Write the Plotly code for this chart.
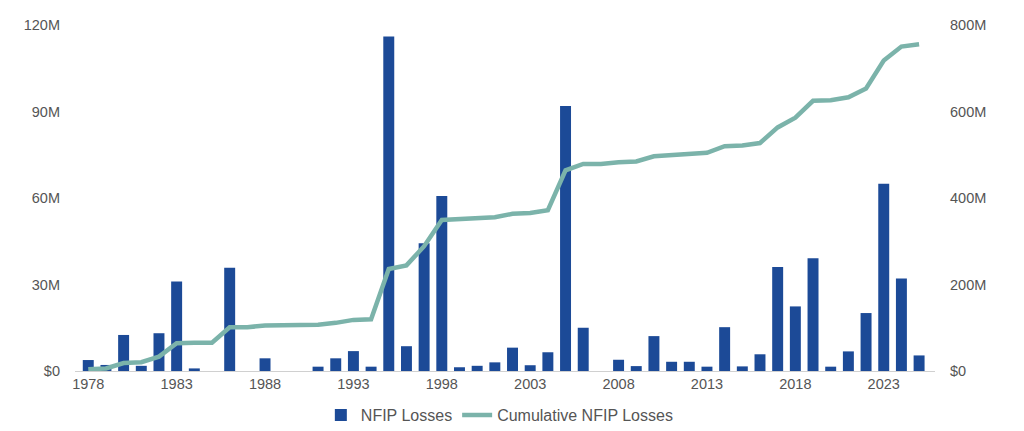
import plotly.graph_objects as go

years = list(range(1978, 2026))
losses_m = [3.8, 2.1, 12.5, 1.8, 13.1, 31.0, 0.9, 0.0, 35.8, 0.0,
            4.4, 0.0, 0.0, 1.5, 4.4, 6.9, 1.5, 116.0, 8.6, 44.3,
            60.7, 1.3, 1.8, 3.0, 8.1, 2.0, 6.5, 91.9, 15.0, 0.0,
            3.9, 1.7, 12.1, 3.2, 3.2, 1.5, 15.2, 1.6, 5.8, 36.1,
            22.4, 39.1, 1.5, 6.8, 20.1, 64.9, 32.1, 5.4]
cumulative_m = [3.8, 5.9, 18.4, 20.2, 33.3, 64.3, 65.2, 65.2, 101.0, 101.0,
                105.4, 105.4, 105.4, 106.9, 111.3, 118.2, 119.7, 235.7, 244.3, 288.6,
                349.3, 350.6, 352.4, 355.4, 363.5, 365.5, 372.0, 463.9, 478.9, 478.9,
                482.8, 484.5, 496.6, 499.8, 503.0, 504.5, 519.7, 521.3, 527.1, 563.2,
                585.6, 624.7, 626.2, 633.0, 653.1, 718.0, 750.1, 755.5]

left_ticks = [0, 30, 60, 90, 120]
left_labels = ["$0", "30M", "60M", "90M", "120M"]
right_ticks = [0, 200, 400, 600, 800]
right_labels = ["$0", "200M", "400M", "600M", "800M"]
x_ticks = [1978, 1983, 1988, 1993, 1998, 2003, 2008, 2013, 2018, 2023]

fig = go.Figure()
fig.add_trace(go.Bar(x=years, y=losses_m, name="NFIP Losses",
                     marker=dict(color="#1c4a97", line=dict(width=0)), width=0.62))
fig.add_trace(go.Scatter(x=years, y=cumulative_m, name="Cumulative NFIP Losses",
                         mode="lines", yaxis="y2",
                         line=dict(color="#7bb3aa", width=4.5)))

font_color = "#555555"
tick_font = dict(family="Liberation Sans, Arial, sans-serif", size=14.5, color=font_color)
fig.update_layout(
    width=1024, height=431,
    margin=dict(l=75, r=89, t=25, b=60, autoexpand=False),
    paper_bgcolor="#ffffff", plot_bgcolor="#ffffff",
    font=dict(family="Liberation Sans, Arial, sans-serif", size=14, color=font_color),
    showlegend=True,
    legend=dict(orientation="h", x=0.494, xanchor="center", xref="paper",
                yref="container", y=1 - 415 / 431, yanchor="middle",
                font=dict(size=16, color=font_color), itemwidth=30),
    xaxis=dict(range=[1977.25, 2025.9], tickvals=x_ticks, ticktext=[str(t) for t in x_ticks],
               showgrid=False, zeroline=False, showline=True, linecolor="#d0d0d0",
               linewidth=1, ticks="", ticklen=0, tickfont=tick_font),
    yaxis=dict(range=[0, 120], tickvals=left_ticks, ticktext=left_labels,
               showgrid=False, zeroline=False, showline=False, ticks="",
               ticklabelstandoff=14, tickfont=tick_font),
    yaxis2=dict(range=[0, 800], tickvals=right_ticks, ticktext=right_labels,
                overlaying="y", side="right", showgrid=False, zeroline=False,
                showline=False, ticks="", ticklabelstandoff=14, tickfont=tick_font),
)

fig.write_html("out.html")
